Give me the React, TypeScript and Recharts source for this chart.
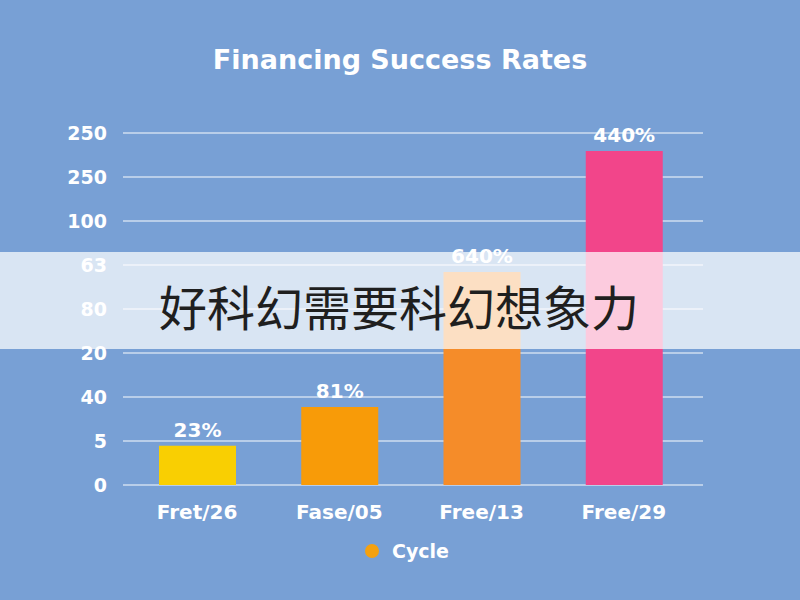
import React from 'react';
import { BarChart, Bar, XAxis, YAxis, CartesianGrid, LabelList, Cell } from 'recharts';

// ── Data ──────────────────────────────────────────────────────────────────────

const categories = ['Fret/26', 'Fase/05', 'Free/13', 'Free/29'];
// bar heights measured in grid steps (the axis labels are not monotonic)
const heights = [0.89, 1.77, 4.84, 7.59];
const valueLabels = ['23%', '81%', '640%', '440%'];
const barColors = ['#f9cf02', '#f89b08', '#f58c29', '#f2458a'];
const yTickLabels = ['0', '5', '40', '20', '80', '63', '100', '250', '250'];
const yTicks = [0, 1, 2, 3, 4, 5, 6, 7, 8];
const seriesName = 'Cycle';

const data = categories.map((c, i) => ({ name: c, value: heights[i], label: valueLabels[i] }));

const FONT = "'DejaVu Sans', 'Open Sans', sans-serif";
const BG = '#78a0d5';

export default function App() {
  return (
    <div style={{ position: 'absolute', left: 0, top: 0, width: 800, height: 600, background: BG, overflow: 'hidden' }}>
      <div style={{
        position: 'absolute', top: 44, left: 0, width: 800, textAlign: 'center',
        fontFamily: FONT, fontWeight: 700, fontSize: 27, color: '#fff',
      }}>
        Financing Success Rates
      </div>

      <BarChart width={800} height={600} data={data}
        margin={{ top: 133, right: 97, bottom: 85, left: 73 }}>
        <CartesianGrid vertical={false} stroke="rgba(255,255,255,0.65)" strokeWidth={1.6} />
        <XAxis dataKey="name" axisLine={false} tickLine={false} tickSize={0} tickMargin={20}
          height={30} padding={{ left: 3, right: 8 }}
          tick={{ fill: '#fff', fontFamily: FONT, fontWeight: 700, fontSize: 20 }} />
        <YAxis domain={[0, 8]} ticks={yTicks} interval={0} width={50}
          axisLine={false} tickLine={false} tickSize={0} tickMargin={16}
          tickFormatter={(v: number) => yTickLabels[v]}
          tick={{ fill: '#fff', fontFamily: FONT, fontWeight: 700, fontSize: 19 }} />
        <Bar dataKey="value" name={seriesName} fill="#f5a10f" barSize={77} isAnimationActive={false}>
          {data.map((d, i) => <Cell key={d.name} fill={barColors[i]} />)}
          <LabelList dataKey="label" position="top" offset={9}
            style={{ fill: '#fff', fontFamily: FONT, fontWeight: 700, fontSize: 20 }} />
        </Bar>
      </BarChart>

      {/* legend */}
      <div style={{
        position: 'absolute', top: 540, left: 7, width: 800, display: 'flex',
        alignItems: 'center', justifyContent: 'center', fontFamily: FONT,
      }}>
        <span style={{ width: 14, height: 14, borderRadius: '50%', background: '#f5a10f', display: 'inline-block', marginRight: 13 }} />
        <span style={{ color: '#fff', fontWeight: 700, fontSize: 19 }}>{seriesName}</span>
      </div>

      {/* translucent banner across the middle */}
      <div style={{
        position: 'absolute', left: 0, top: 252, width: 800, height: 97,
        background: 'rgba(255,255,255,0.72)', display: 'flex', alignItems: 'center', justifyContent: 'center',
      }}>
        <span style={{
          fontFamily: "'Noto Sans CJK SC', sans-serif", fontSize: 48, lineHeight: 1,
          color: '#1f1f1f', marginLeft: -2, marginTop: 8,
        }}>
          好科幻需要科幻想象力
        </span>
      </div>
    </div>
  );
}
